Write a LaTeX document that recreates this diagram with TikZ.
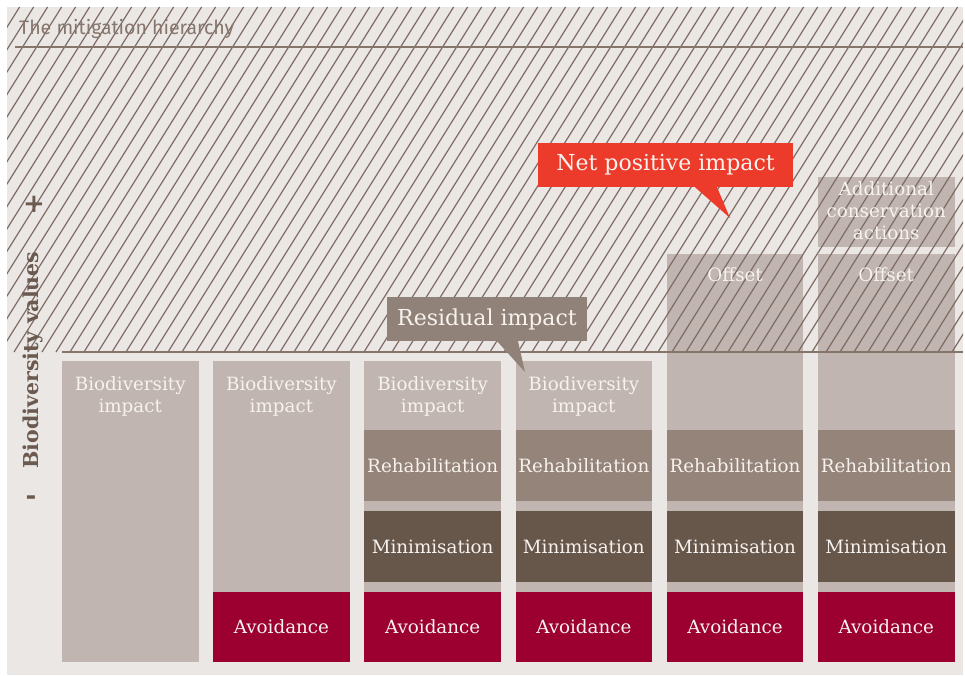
\documentclass[tikz,border=0pt]{standalone}
\usepackage{fontspec}
\setmainfont{DejaVu Serif}
\newfontfamily\titlefont{Fira Sans}

\definecolor{panelbg}{HTML}{EBE7E4}
\definecolor{tanbar}{HTML}{C0B5B0}
\definecolor{rehabc}{HTML}{948479}
\definecolor{minimc}{HTML}{67574B}
\definecolor{avoidc}{HTML}{9B0030}
\definecolor{hatchc}{HTML}{7E6C64}
\definecolor{rulec}{HTML}{86756B}
\definecolor{residc}{HTML}{918279}
\definecolor{netred}{HTML}{EC3B2B}
\definecolor{lighttext}{HTML}{F7F2EE}
\definecolor{axisc}{HTML}{6B5A4F}
\definecolor{titlec}{HTML}{86766D}

\tikzset{
  block/.style={anchor=north west, minimum width=136.5pt, inner sep=0pt, outer sep=0pt,
                text=lighttext, font=\fontsize{18.3}{22}\selectfont},
  tanblock/.style={block, fill=tanbar},
  rehabblock/.style={block, fill=rehabc, minimum height=71pt},
  minimblock/.style={block, fill=minimc, minimum height=71pt},
  avoidblock/.style={block, fill=avoidc, minimum height=70pt},
  barlabel/.style={text=lighttext, font=\fontsize{18.3}{22}\selectfont, align=center, inner sep=0pt},
  hatchline/.style={draw=hatchc, line width=1.2pt},
  rule/.style={draw=rulec, line width=2pt},
  callout/.style={inner sep=0pt, text=lighttext, font=\fontsize{22}{22}\selectfont,
                  minimum height=44pt},
}

\begin{document}
\begin{tikzpicture}[x=1pt,y=-1pt]
\useasboundingbox (0,0) rectangle (965,676);
\fill[white] (0,0) rectangle (965,676);
\node[anchor=north west, fill=panelbg, inner sep=0pt, minimum width=956pt, minimum height=668pt] (panel) at (7,7) {};

% tan columns
\foreach \i/\L in {1/62, 2/213.2, 3/364.4, 4/515.6}
  \node[tanblock, minimum height=301pt] (col\i) at (\L,361) {};
\foreach \i/\L in {5/666.8, 6/818}
  \node[tanblock, minimum height=408pt] (col\i) at (\L,254) {};
\node[tanblock, minimum height=70pt] (extra) at (818,177) {};

% hatched area above the baseline
\begin{scope}
  \clip (7,7) rectangle (963,352);
  \foreach \k in {-16,...,70}
    \draw[hatchline] (\k*14,352) -- ++(215.6,-345);
\end{scope}

% baseline and title rule
\draw[rule] (62,352) -- (963,352);
\draw[rule] (15,47) -- (963,47);

% stacked mitigation blocks
\foreach \i/\L in {3/364.4, 4/515.6, 5/666.8, 6/818} {
  \node[rehabblock] (rehab\i) at (\L,430) {Rehabilitation};
  \node[minimblock] (minim\i) at (\L,511) {Minimisation};
}
\foreach \i/\L in {2/213.2, 3/364.4, 4/515.6, 5/666.8, 6/818}
  \node[avoidblock] (avoid\i) at (\L,592) {Avoidance};

% labels inside the tan areas
\foreach \i in {1,2,3,4}
  \node[barlabel] (bio\i) at ([yshift=-35.5pt]col\i.north) {Biodiversity\\impact};
\node[barlabel] (off5) at ([yshift=-21pt]col5.north) {Offset};
\node[barlabel] (off6) at ([yshift=-21pt]col6.north) {Offset};
\node[barlabel] (extratext) at ([yshift=1pt]extra.center) {Additional\\conservation\\actions};

% callouts
\node[callout, fill=residc, minimum width=200pt] (resid) at (487,319) {Residual impact};
\coordinate (residtip) at (525,372);
\fill[residc] ([xshift=10pt]resid.south) -- (residtip) -- ([xshift=31pt]resid.south) -- cycle;

\node[callout, fill=netred, minimum width=255pt] (net) at (665.5,165) {Net positive impact};
\coordinate (nettip) at (730,218);
\fill[netred] ([xshift=29.5pt]net.south) -- (nettip) -- ([xshift=51.5pt]net.south) -- cycle;

% axis
\node[rotate=90, text=axisc, font=\bfseries\fontsize{20.5}{20.5}\selectfont, inner sep=0pt] (axis) at (33,360) {Biodiversity values};
\node[text=axisc, font=\bfseries\fontsize{26}{26}\selectfont, inner sep=0pt] (plus) at (34,204) {+};
\node[text=axisc, font=\bfseries\fontsize{26}{26}\selectfont, inner sep=0pt] (minus) at (31,500) {-};

% title
\node[anchor=base west, text=titlec, font=\titlefont\fontsize{19.5}{19.5}\selectfont, inner sep=0pt] (title) at (19,35) {The mitigation hierarchy};
\end{tikzpicture}
\end{document}
